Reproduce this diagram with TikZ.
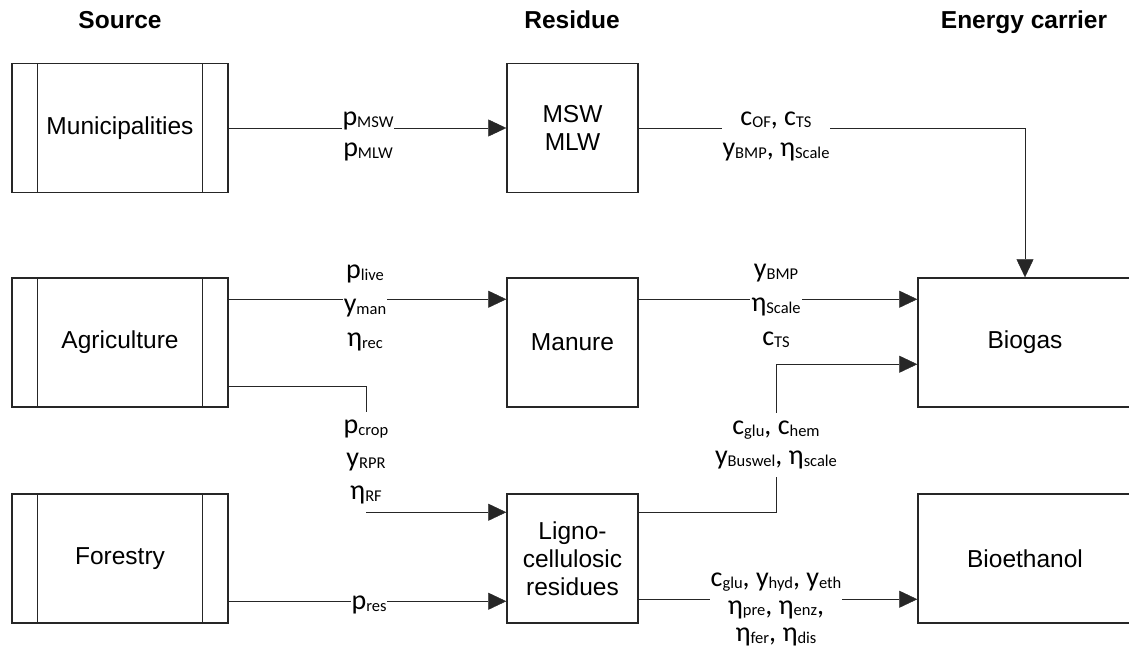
\documentclass[tikz,border=0pt]{standalone}
\usepackage{fontspec}
\setmainfont{Liberation Sans}
\newfontfamily\labfont{Carlito}
\usetikzlibrary{arrows.meta,backgrounds}
\newcommand{\sbs}[1]{\raisebox{-1.5pt}{\fontsize{16.5}{16.5}\selectfont #1}}
\begin{document}
\begin{tikzpicture}[x=1pt,y=-1pt,line width=1.5pt,
  every node/.style={font=\fontsize{24.5}{28}\selectfont},
  box/.style={draw=black!85, minimum width=131pt, minimum height=129pt, align=center, inner sep=0pt},
  srcbox/.style={box, minimum width=216pt,
    path picture={\draw[black!85,line width=1.5pt]
      ([xshift=25.5pt]path picture bounding box.north west) -- ([xshift=25.5pt]path picture bounding box.south west)
      ([xshift=-25.5pt]path picture bounding box.north east) -- ([xshift=-25.5pt]path picture bounding box.south east);}},
  wide/.style={box, minimum width=214pt},
  hdr/.style={anchor=base, font=\fontsize{24.5}{28}\selectfont\bfseries},
  lab/.style={fill=white, inner xsep=1pt, inner ysep=0pt, align=center,
    font=\labfont\fontsize{28}{#1}\selectfont},
  lab/.default=34,
  arr/.style={draw=black!85, -{Triangle[length=18pt,width=17pt]}},
  con/.style={draw=black!85}
]
\useasboundingbox (0,0) rectangle (1129,655);

% headers
\node[hdr] (hsrc) at (120,29) {Source};
\node[hdr] (hres) at (572,29) {Residue};
\node[hdr] (hen) at (1024,29) {Energy carrier};

% source boxes
\node[srcbox] (mun) at (120,128) {Municipalities};
\node[srcbox] (agr) at (120,342.5) {Agriculture};
\node[srcbox] (for) at (120,558.5) {Forestry};

% residue boxes
\node[box] (msw) at (572.5,128) {MSW\\MLW};
\node[box] (man) at (572.5,342.5) {Manure};
\node[box] (lig) at (572.5,558.5) {Ligno-\\cellulosic\\residues};

% energy carriers
\node[wide] (bio) at (1025,342.5) {Biogas};
\node[wide] (eth) at (1025,558.5) {Bioethanol};

% labels
\node[lab=31] (l1) at (368,136.5) {p\sbs{MSW}\\p\sbs{MLW}};
\node[lab=31] (l2) at (776,136.5) {c\sbs{OF}, c\sbs{TS}\\y\sbs{BMP}, η\sbs{Scale}};
\node[lab] (l3) at (365,308) {p\sbs{live}\\y\sbs{man}\\η\sbs{rec}};
\node[lab] (l4) at (776,305.75) {y\sbs{BMP}\\η\sbs{Scale}\\c\sbs{TS}};
\node[lab=33, inner ysep=8pt] (l5) at (366,462) {p\sbs{crop}\\y\sbs{RPR}\\η\sbs{RF}};
\node[lab=30, inner ysep=8pt] (l6) at (776,445) {c\sbs{glu}, c\sbs{hem}\\y\sbs{Buswel}, η\sbs{scale}};
\node[lab=27.5] (l7) at (776,609.5) {c\sbs{glu}, y\sbs{hyd}, y\sbs{eth}\\η\sbs{pre}, η\sbs{enz},\\η\sbs{fer}, η\sbs{dis}};
\node[lab] (l8) at (369,605) {p\sbs{res}};

\begin{pgfonlayer}{background}
\fill[white] (0,0) rectangle (1129,655);
\draw[arr] (mun.east) -- (msw.west);
\draw[arr] (msw.east) -| (bio.north);
\draw[arr] ([yshift=-22pt]agr.north east) -- ([yshift=-22pt]man.north west);
\draw[arr] ([yshift=-22pt]man.north east) -- ([yshift=-22pt]bio.north west);
\draw[arr] ([yshift=-109pt]agr.north east) -| (l5.center) |- ([yshift=-19pt]lig.north west);
\draw[arr] ([yshift=-108pt]for.north east) -- ([yshift=-108pt]lig.north west);
\draw[arr] ([yshift=-19pt]lig.north east) -| (l6.center) |- ([yshift=-87pt]bio.north west);
\draw[arr] ([yshift=-106pt]lig.north east) -- ([yshift=-106pt]eth.north west);
\end{pgfonlayer}
\end{tikzpicture}
\end{document}
